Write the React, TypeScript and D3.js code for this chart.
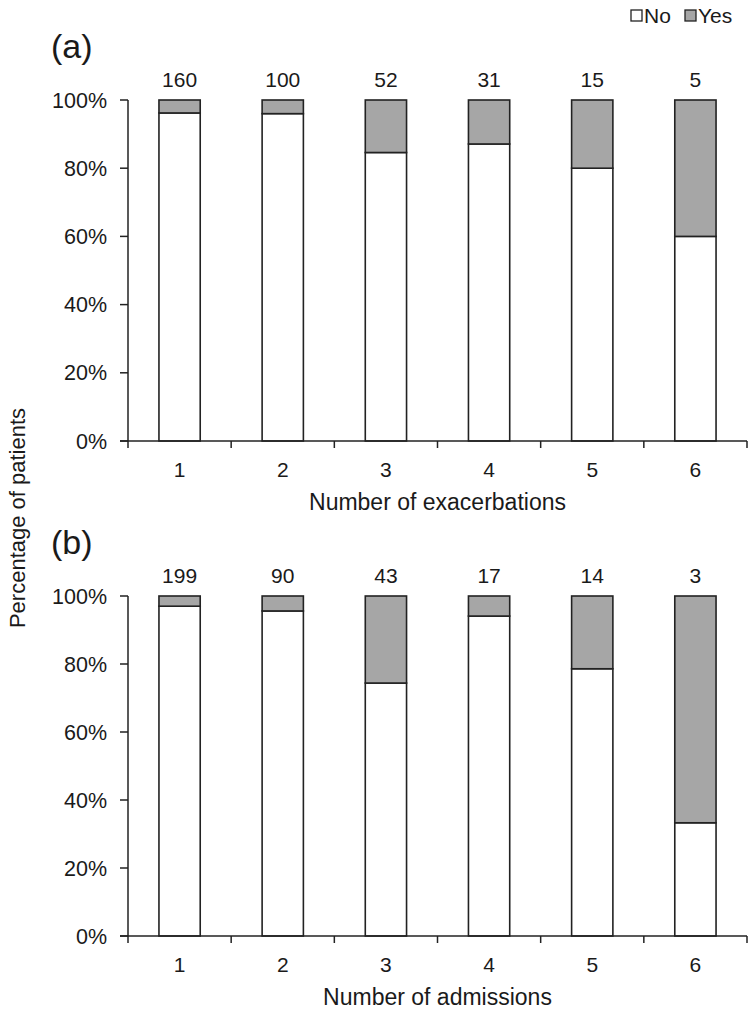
import React from "react";
import * as d3 from "d3";

const categories = ["1", "2", "3", "4", "5", "6"];
const countsA = [160, 100, 52, 31, 15, 5];
const noPctA = [96.2, 96.0, 84.6, 87.1, 80.0, 60.0];
const countsB = [199, 90, 43, 17, 14, 3];
const noPctB = [97.0, 95.6, 74.4, 94.1, 78.6, 33.3];
const yTicks = [0, 20, 40, 60, 80, 100];

const FONT = "'Liberation Sans', Arial, sans-serif";
const AXIS = "#222";
const TEXT = "#1a1a1a";
const GRAY = "#a6a6a6";

type PanelProps = {
  label: string;
  counts: number[];
  noPct: number[];
  top: number;
  bottom: number;
  xTitle: string;
};

const x = d3
  .scaleBand<string>()
  .domain(categories)
  .range([128, 747])
  .paddingInner(0.6)
  .paddingOuter(0.3);

function Panel({ label, counts, noPct, top, bottom, xTitle }: PanelProps) {
  const y = d3.scaleLinear().domain([0, 100]).range([bottom, top]);
  const step = x.step();
  const x0 = x.range()[0];
  const x1 = x.range()[1];
  const boundaries = d3.range(categories.length + 1).map((i) => x0 + i * step);
  return (
    <g>
      <text x={51} y={top - 42} fontFamily={FONT} fontSize={34} fill={TEXT}>
        {label}
      </text>
      {categories.map((c, i) => {
        const bx = x(c)!;
        const bw = x.bandwidth();
        return (
          <g key={c}>
            <rect x={bx} y={y(noPct[i])} width={bw} height={y(0) - y(noPct[i])} fill="#fff" stroke={AXIS} strokeWidth={1.6} />
            <rect x={bx} y={y(100)} width={bw} height={y(noPct[i]) - y(100)} fill={GRAY} stroke={AXIS} strokeWidth={1.6} />
            <text x={bx + bw / 2} y={top - 13} textAnchor="middle" fontFamily={FONT} fontSize={21} fill={TEXT}>
              {counts[i]}
            </text>
            <text x={bx + bw / 2} y={bottom + 36} textAnchor="middle" fontFamily={FONT} fontSize={21} fill={TEXT}>
              {c}
            </text>
          </g>
        );
      })}
      {/* y axis */}
      <line x1={x0} x2={x0} y1={y(100)} y2={y(0)} stroke={AXIS} strokeWidth={1.5} />
      {yTicks.map((t) => (
        <g key={t}>
          <line x1={x0 - 8} x2={x0} y1={y(t)} y2={y(t)} stroke={AXIS} strokeWidth={1.5} />
          <text x={x0 - 21} y={y(t) + 7.5} textAnchor="end" fontFamily={FONT} fontSize={21.5} fill={TEXT}>
            {t}%
          </text>
        </g>
      ))}
      {/* x axis */}
      <line x1={x0 - 8} x2={x1} y1={y(0)} y2={y(0)} stroke={AXIS} strokeWidth={1.5} />
      {boundaries.map((bx, i) => (
        <line key={i} x1={bx} x2={bx} y1={y(0)} y2={y(0) + 7} stroke={AXIS} strokeWidth={1.5} />
      ))}
      <text x={(x0 + x1) / 2} y={bottom + 69} textAnchor="middle" fontFamily={FONT} fontSize={23} fill={TEXT}>
        {xTitle}
      </text>
    </g>
  );
}

export default function App() {
  return (
    <svg
      width={750}
      height={1014}
      style={{ position: "absolute", left: 0, top: 0, background: "#fff" }}
    >
      <rect x={0} y={0} width={750} height={1014} fill="#fff" />
      {/* legend */}
      <g>
        <rect x={631} y={10} width={11} height={11} fill="#fff" stroke={AXIS} strokeWidth={1.3} />
        <text x={644} y={23} fontFamily={FONT} fontSize={21} fill={TEXT}>No</text>
        <rect x={685} y={10} width={11} height={11} fill={GRAY} stroke={AXIS} strokeWidth={1.3} />
        <text x={698} y={23} fontFamily={FONT} fontSize={21} fill={TEXT}>Yes</text>
      </g>
      <text
        transform="translate(25,518) rotate(-90)"
        textAnchor="middle"
        fontFamily={FONT}
        fontSize={22}
        fill={TEXT}
      >
        Percentage of patients
      </text>
      <Panel label="(a)" counts={countsA} noPct={noPctA} top={100} bottom={441} xTitle="Number of exacerbations" />
      <Panel label="(b)" counts={countsB} noPct={noPctB} top={596} bottom={936} xTitle="Number of admissions" />
    </svg>
  );
}
